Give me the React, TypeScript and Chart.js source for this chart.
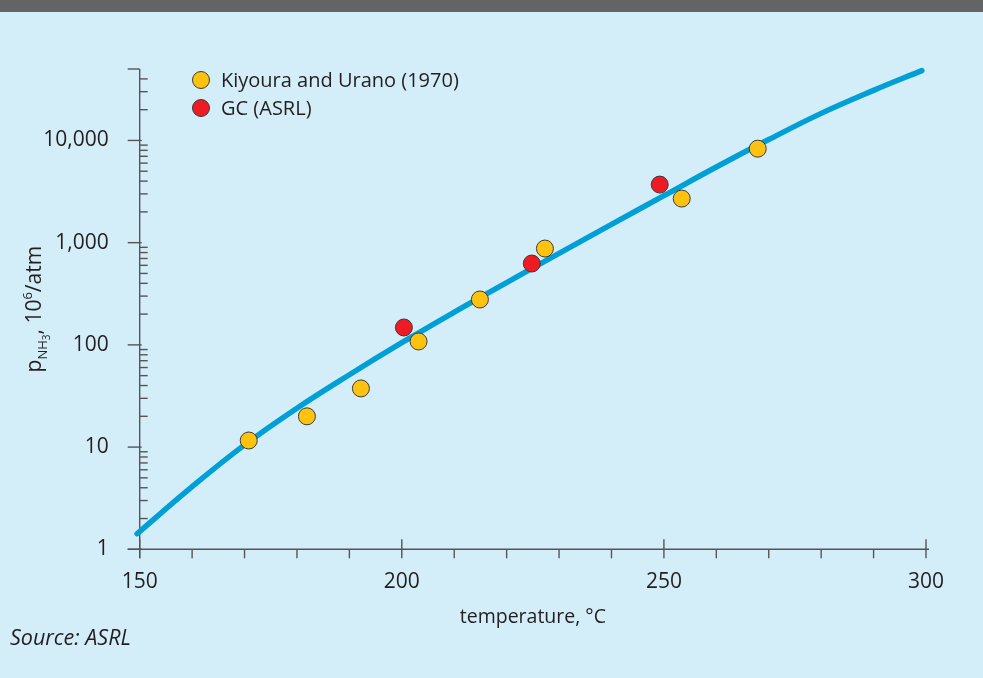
import React, { useEffect, useRef } from "react";
import { Chart, registerables } from "chart.js";

Chart.register(...registerables);

// ---- data ----
const kiyouraTemps = [170.8, 181.9, 192.2, 203.2, 214.9, 227.3, 253.4, 267.9];
const kiyouraValues = [11.6, 20, 37.5, 108, 278, 876, 2700, 8310];
const gcTemps = [200.4, 224.8, 249.2];
const gcValues = [148, 625, 3700];
const curveTemps = [149.5, 160, 170, 180, 190, 200, 210, 220, 230, 240, 250, 260, 270, 280, 290, 299.2];
const curveValues = [1.42, 4.1, 10.5, 24, 51, 105, 209, 407, 785, 1510, 2880, 5500, 10200, 18400, 30900, 48200];

const xMajorTicks = [150, 200, 250, 300];
const xMinorTicks = [160, 170, 180, 190, 210, 220, 230, 240, 260, 270, 280, 290];
const yMajorTicks = [1, 10, 100, 1000, 10000];
const yMinorTicks = [
  2, 3, 4, 5, 6, 7, 8, 9,
  20, 30, 40, 50, 60, 70, 80, 90,
  200, 300, 400, 500, 600, 700, 800, 900,
  2000, 3000, 4000, 5000, 6000, 7000, 8000, 9000,
  20000, 30000, 40000,
];

const xMin = 150;
const xMax = 300;
const yMin = 1;
const yMax = 50000;

const legendLabels = ["Kiyoura and Urano (1970)", "GC (ASRL)"];
const xTitle = "temperature, °C";
const sourceText = "Source: ASRL";

// ---- styles ----
const FONT = "'Open Sans', 'Noto Sans', sans-serif";
const BG = "#d3edf9";
const TEXT = "#231f20";
const AXIS = "#555557";
const BLUE = "#00a0d6";
const YELLOW = "#ffc20e";
const RED = "#ed1c24";
const OUTLINE = "#3a3a3a";

const axesPlugin = {
  id: "customAxes",
  beforeDatasetsDraw(chart: any) {
    const { ctx, scales } = chart;
    const x = scales.x;
    const y = scales.y;
    const ax = x.getPixelForValue(xMin);
    const ay = y.getPixelForValue(yMin);
    const top = y.getPixelForValue(yMax);
    const line = (x1: number, y1: number, x2: number, y2: number) => {
      ctx.beginPath();
      ctx.moveTo(x1, y1);
      ctx.lineTo(x2, y2);
      ctx.stroke();
    };
    ctx.save();
    ctx.strokeStyle = AXIS;
    ctx.lineWidth = 1.4;
    line(ax - 12, ay, x.getPixelForValue(xMax) + 3, ay);
    line(ax, top, ax, ay + 9);
    line(ax - 12, top, ax, top);
    yMajorTicks.forEach((v) => {
      const py = y.getPixelForValue(v);
      line(ax - 12, py, ax + 2, py);
    });
    yMinorTicks.forEach((v) => {
      const py = y.getPixelForValue(v);
      line(ax, py, ax + 8, py);
    });
    xMajorTicks.forEach((v) => {
      const px = x.getPixelForValue(v);
      line(px, ay - 10, px, ay + 9);
    });
    xMinorTicks.forEach((v) => {
      const px = x.getPixelForValue(v);
      line(px, ay, px, ay + 9);
    });
    ctx.restore();
  },
};

const legendPlugin = {
  id: "customLegend",
  afterDraw(chart: any) {
    const { ctx } = chart;
    const items = [
      { label: legendLabels[0], color: YELLOW },
      { label: legendLabels[1], color: RED },
    ];
    ctx.save();
    ctx.font = `20px ${FONT}`;
    ctx.textBaseline = "middle";
    ctx.textAlign = "left";
    items.forEach((it, i) => {
      const cy = 80 + i * 28;
      ctx.beginPath();
      ctx.arc(201, cy, 8.5, 0, Math.PI * 2);
      ctx.fillStyle = it.color;
      ctx.fill();
      ctx.lineWidth = 1;
      ctx.strokeStyle = OUTLINE;
      ctx.stroke();
      ctx.fillStyle = TEXT;
      ctx.fillText(it.label, 221, cy + 1);
    });
    ctx.restore();
  },
};

const yTitlePlugin = {
  id: "yTitle",
  afterDraw(chart: any) {
    const { ctx, chartArea } = chart;
    const pieces = [
      { t: "p", size: 21, dy: 0 },
      { t: "NH", size: 13, dy: 6 },
      { t: "3", size: 10, dy: 9 },
      { t: ", 10", size: 21, dy: 0 },
      { t: "6", size: 13, dy: -9 },
      { t: "/atm", size: 21, dy: 0 },
    ];
    ctx.save();
    let total = 0;
    const widths = pieces.map((p) => {
      ctx.font = `${p.size}px ${FONT}`;
      const w = ctx.measureText(p.t).width;
      total += w;
      return w;
    });
    const cy = (chartArea.top + chartArea.bottom) / 2;
    ctx.translate(41, cy);
    ctx.rotate(-Math.PI / 2);
    ctx.fillStyle = TEXT;
    ctx.textBaseline = "alphabetic";
    ctx.textAlign = "left";
    let cx = -total / 2;
    pieces.forEach((p, i) => {
      ctx.font = `${p.size}px ${FONT}`;
      ctx.fillText(p.t, cx, p.dy);
      cx += widths[i];
    });
    ctx.restore();
  },
};

const sourcePlugin = {
  id: "sourceText",
  afterDraw(chart: any) {
    const { ctx } = chart;
    ctx.save();
    ctx.font = `italic 21.5px ${FONT}`;
    ctx.fillStyle = TEXT;
    ctx.textBaseline = "middle";
    ctx.textAlign = "left";
    ctx.fillText(sourceText, 10, 639);
    ctx.restore();
  },
};

export default function App() {
  const canvasRef = useRef<HTMLCanvasElement | null>(null);

  useEffect(() => {
    document.body.style.margin = "0";
    const canvas = canvasRef.current;
    if (!canvas) return;
    const chart = new Chart(canvas, {
      type: "scatter",
      data: {
        datasets: [
          {
            label: legendLabels[1],
            data: gcTemps.map((t, i) => ({ x: t, y: gcValues[i] })),
            backgroundColor: RED,
            borderColor: OUTLINE,
            borderWidth: 1,
            pointRadius: 8.5,
            pointHoverRadius: 8.5,
          },
          {
            label: legendLabels[0],
            data: kiyouraTemps.map((t, i) => ({ x: t, y: kiyouraValues[i] })),
            backgroundColor: YELLOW,
            borderColor: OUTLINE,
            borderWidth: 1,
            pointRadius: 8.5,
            pointHoverRadius: 8.5,
          },
          {
            label: "fit",
            type: "line",
            data: curveTemps.map((t, i) => ({ x: t, y: curveValues[i] })),
            borderColor: BLUE,
            borderWidth: 5.5,
            pointRadius: 0,
            tension: 0.4,
            borderCapStyle: "round",
            borderJoinStyle: "round",
            showLine: true,
            fill: false,
            clip: false,
          } as any,
        ],
      },
      options: {
        animation: false,
        responsive: false,
        devicePixelRatio: 1,
        events: [],
        layout: { padding: { top: 69, right: 57, left: 0, bottom: 0 } },
        plugins: {
          legend: { display: false },
          tooltip: { enabled: false },
        },
        scales: {
          x: {
            type: "linear",
            position: "bottom",
            min: xMin,
            max: xMax,
            afterFit: (s: any) => {
              s.height = 128.7;
            },
            afterBuildTicks: (s: any) => {
              s.ticks = xMajorTicks.map((v) => ({ value: v }));
            },
            grid: { display: false, drawTicks: false, tickLength: 0 },
            border: { display: false },
            ticks: {
              padding: 20,
              color: TEXT,
              maxRotation: 0,
              autoSkip: false,
              font: { family: FONT, size: 21 },
            },
            title: {
              display: true,
              text: xTitle,
              color: TEXT,
              font: { family: FONT, size: 19.5 },
              padding: { top: 0, bottom: 49 },
            },
          },
          y: {
            type: "logarithmic",
            min: yMin,
            max: yMax,
            afterFit: (s: any) => {
              s.width = 139.7;
            },
            afterBuildTicks: (s: any) => {
              s.ticks = yMajorTicks.map((v) => ({ value: v }));
            },
            grid: { display: false, drawTicks: false, tickLength: 0 },
            border: { display: false },
            ticks: {
              padding: 31,
              color: TEXT,
              autoSkip: false,
              font: { family: FONT, size: 21 },
              callback: (v: any) => Number(v).toLocaleString("en-US"),
            },
          },
        },
      } as any,
      plugins: [axesPlugin, legendPlugin, yTitlePlugin, sourcePlugin],
    });
    return () => chart.destroy();
  }, []);

  return (
    <div style={{ position: "relative", width: 983, height: 678, background: BG, overflow: "hidden" }}>
      <div style={{ position: "absolute", left: 0, top: 0, width: 983, height: 12, background: "#636466" }} />
      <canvas ref={canvasRef} width={983} height={678} style={{ display: "block", width: 983, height: 678 }} />
    </div>
  );
}
